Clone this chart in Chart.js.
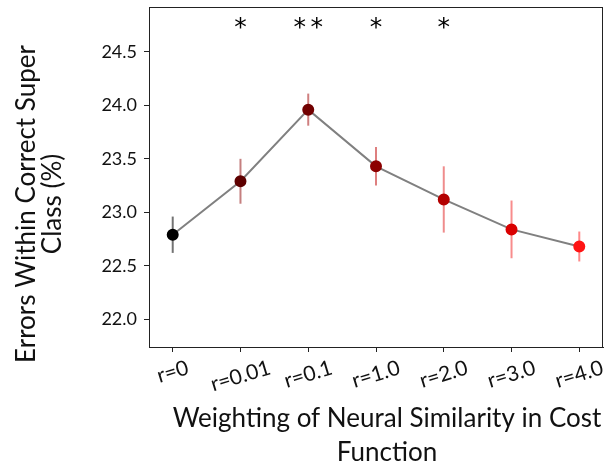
<!DOCTYPE html>
<html lang="en">
<head>
  <meta charset="UTF-8" />
  <title>Errors within correct super class</title>
  <script src="https://cdn.jsdelivr.net/npm/chart.js"></script>
  <style>
    html, body { margin: 0; padding: 0; background: #fff; }
    #wrap { width: 610px; height: 463px; }
  </style>
</head>
<body>
  <div id="wrap"><canvas id="chart" width="610" height="463"></canvas></div>

  <script>
    // values
    const rLabels = ['r=0', 'r=0.01', 'r=0.1', 'r=1.0', 'r=2.0', 'r=3.0', 'r=4.0'];
    const errMean = [22.79, 23.29, 23.96, 23.43, 23.12, 22.84, 22.68];
    const errSem  = [0.17, 0.21, 0.15, 0.18, 0.31, 0.27, 0.14];
    const stars   = [0, 1, 2, 1, 1, 0, 0];
    const pointColors = ['#000000', '#5e0000', '#720000', '#8c0000', '#b40000', '#da0000', '#ff1414'];
    const barColors   = ['rgba(0,0,0,0.55)', 'rgba(140,0,0,0.5)', 'rgba(160,0,0,0.5)', 'rgba(190,0,0,0.5)',
                         'rgba(220,0,0,0.45)', 'rgba(240,0,0,0.45)', 'rgba(255,20,20,0.5)'];
    const yTitle = ['Errors Within Correct Super', 'Class (%)'];
    const xTitle = ['Weighting of Neural Similarity in Cost', 'Function'];

    const FONT = 'Lato, "Open Sans", sans-serif';

    const extras = {
      id: 'extras',
      beforeDatasetsDraw(chart) {
        const { ctx, scales: { x, y } } = chart;
        ctx.save();
        ctx.lineWidth = 2;
        errMean.forEach((m, i) => {
          const px = x.getPixelForValue(i);
          ctx.strokeStyle = barColors[i];
          ctx.beginPath();
          ctx.moveTo(px, y.getPixelForValue(m - errSem[i]));
          ctx.lineTo(px, y.getPixelForValue(m + errSem[i]));
          ctx.stroke();
        });
        ctx.restore();
      },
      afterDraw(chart) {
        const { ctx, chartArea: a, scales: { x, y } } = chart;
        ctx.save();
        // frame
        ctx.strokeStyle = '#222';
        ctx.lineWidth = 1;
        ctx.strokeRect(a.left + 0.5, a.top + 0.5, a.right - a.left - 1, a.bottom - a.top);

        // significance stars
        ctx.fillStyle = '#000';
        ctx.font = '25px "DejaVu Sans"';
        ctx.textAlign = 'center';
        ctx.textBaseline = 'alphabetic';
        const sy = y.getPixelForValue(24.66);
        stars.forEach((n, i) => {
          const cx = x.getPixelForValue(i);
          for (let k = 0; k < n; k++) {
            ctx.fillText('*', cx + (k - (n - 1) / 2) * 17, sy);
          }
        });

        // rotated, centred x tick labels
        const ang = 17 * Math.PI / 180;
        ctx.font = '21px ' + FONT;
        ctx.fillStyle = '#111';
        ctx.textBaseline = 'middle';
        const top = a.bottom + 13;
        rLabels.forEach((lab, i) => {
          const w = ctx.measureText(lab).width;
          const h = 15;
          const bh = w * Math.sin(ang) + h * Math.cos(ang);
          ctx.save();
          ctx.translate(x.getPixelForValue(i), top + bh / 2);
          ctx.rotate(-ang);
          ctx.fillText(lab, 0, 0);
          ctx.restore();
        });

        // axis titles
        ctx.font = '26px ' + FONT;
        ctx.textBaseline = 'alphabetic';
        ctx.fillText(xTitle[0], 387, 427);
        ctx.fillText(xTitle[1], 387, 461);
        [35, 61].forEach((bx, k) => {
          ctx.save();
          ctx.translate(bx, 204);
          ctx.rotate(-Math.PI / 2);
          ctx.fillText(yTitle[k], 0, 0);
          ctx.restore();
        });
        ctx.restore();
      }
    };

    new Chart(document.getElementById('chart'), {
      type: 'line',
      data: {
        datasets: [{
          data: errMean.map((v, i) => ({ x: i, y: v })),
          borderColor: '#808080',
          borderWidth: 2,
          pointRadius: 5,
          pointHoverRadius: 5,
          pointBackgroundColor: pointColors,
          pointBorderColor: pointColors,
          tension: 0
        }]
      },
      options: {
        responsive: false,
        animation: false,
        layout: { padding: { top: 7, right: 4, left: 0, bottom: 0 } },
        plugins: { legend: { display: false }, tooltip: { enabled: false } },
        scales: {
          x: {
            type: 'linear',
            min: -0.35,
            max: 6.35,
            afterFit(s) { s.height = 116; s.paddingLeft = 0; s.paddingRight = 0; },
            grid: { drawOnChartArea: false, drawTicks: true, tickLength: 5, color: '#222' },
            border: { color: '#222' },
            ticks: { display: false, stepSize: 1, includeBounds: false, autoSkip: false }
          },
          y: {
            min: 21.74,
            max: 24.92,
            afterFit(s) { s.width = 149; s.paddingTop = 0; s.paddingBottom = 0; },
            grid: { drawOnChartArea: false, drawTicks: true, tickLength: 5, color: '#222' },
            border: { color: '#222' },
            ticks: {
              stepSize: 0.5,
              includeBounds: false,
              color: '#111',
              padding: 7,
              font: { family: FONT, size: 18 },
              callback: v => v.toFixed(1)
            }
          }
        }
      },
      plugins: [extras]
    });
  </script>
</body>
</html>
